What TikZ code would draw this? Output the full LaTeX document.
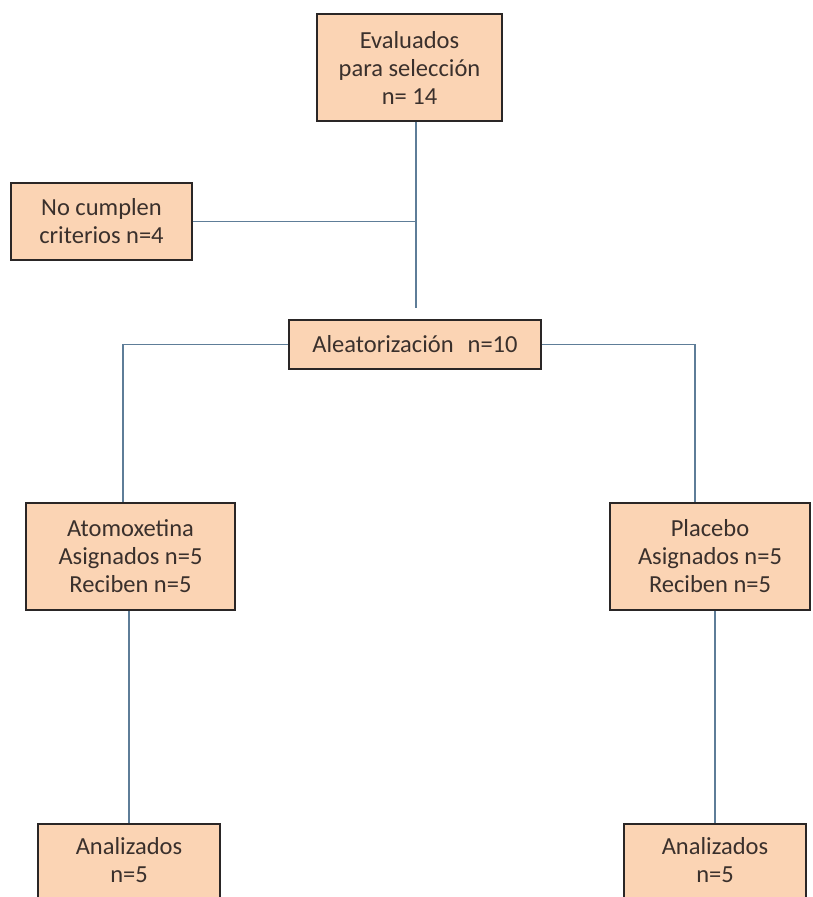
\documentclass[tikz,border=0pt]{standalone}
\usepackage{fontspec}
\setmainfont{Carlito}
\definecolor{boxfill}{HTML}{FBD4B4}
\definecolor{boxline}{HTML}{2A2626}
\definecolor{conn}{HTML}{5E7D98}
\definecolor{txt}{HTML}{3A302C}
\begin{document}
\begin{tikzpicture}[x=1pt,y=-1pt,
  flowbox/.style={draw=boxline, line width=1.6pt, fill=boxfill, text=txt,
    align=center, inner sep=0pt, font=\fontsize{24.5}{28}\selectfont},
  link/.style={draw=conn, line width=1.4pt}]
\clip (0,0) rectangle (812,897);
\fill[white] (0,0) rectangle (812,897);
\useasboundingbox (0,0) rectangle (812,897);

\node[flowbox, minimum width=185pt, minimum height=107pt] (eval) at (409.5,67.5)
  {Evaluados\\para selección\\n= 14};
\node[flowbox, minimum width=181pt, minimum height=77pt] (noc) at (101.5,221.5)
  {No cumplen\\criterios n=4};
\node[flowbox, minimum width=252pt, minimum height=49pt] (alea) at (415,344.5)
  {Aleatorización\hspace{14pt}n=10};
\node[flowbox, minimum width=209pt, minimum height=107pt] (atom) at (130.5,556.5)
  {Atomoxetina\\Asignados n=5\\Reciben n=5};
\node[flowbox, minimum width=200pt, minimum height=107pt] (plac) at (710,556.5)
  {Placebo\\Asignados n=5\\Reciben n=5};
\node[flowbox, minimum width=182pt, minimum height=100pt, anchor=north] (anl) at (129,823)
  {Analizados\\n=5\\\mbox{}};
\node[flowbox, minimum width=182pt, minimum height=100pt, anchor=north] (anr) at (715,823)
  {Analizados\\n=5\\\mbox{}};

\coordinate (stem) at (416,308);
\coordinate (lcol) at (123,344);
\coordinate (rcol) at (695,347);

\draw[link] (eval.south -| stem) -- (stem);
\draw[link] (noc.east) -- (noc.east -| stem);
\draw[link] (alea.west) -- (alea.west -| lcol) -- (lcol |- atom.north);
\draw[link] (alea.east) -- (alea.east -| rcol) -- (rcol |- plac.north);
\draw[link] (anl.north |- atom.south) -- (anl.north);
\draw[link] (anr.north |- plac.south) -- (anr.north);
\end{tikzpicture}
\end{document}
